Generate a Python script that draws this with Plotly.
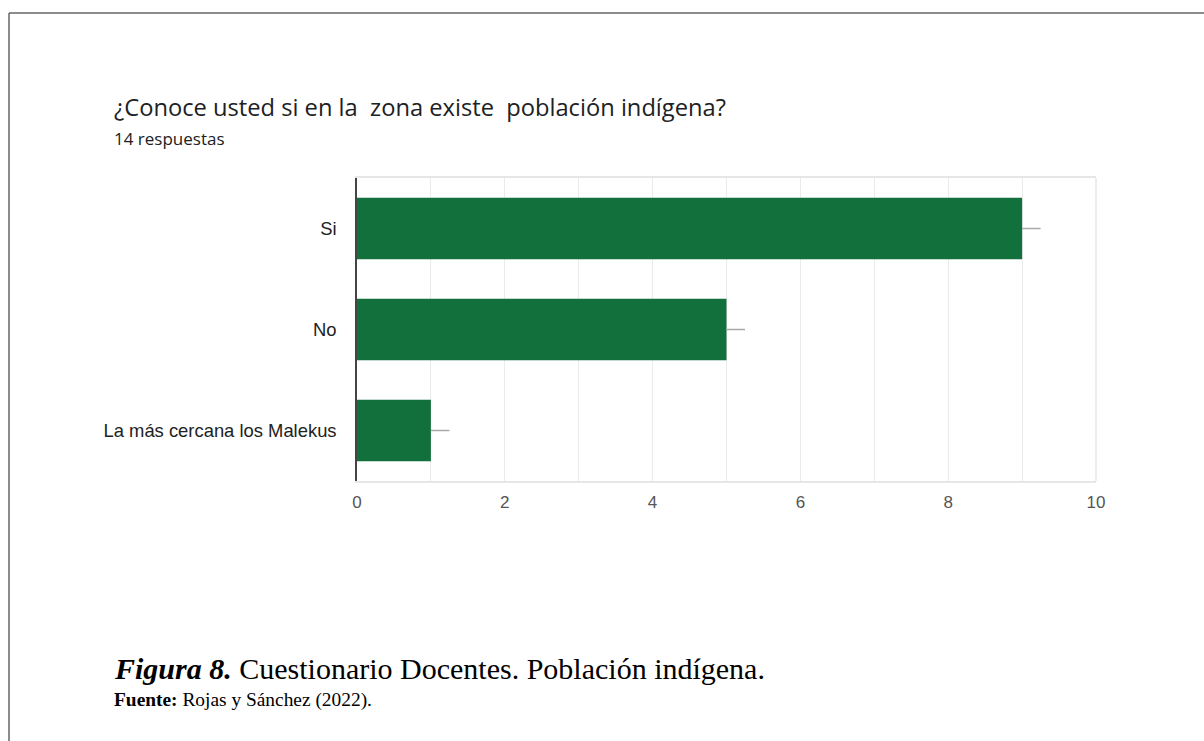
import plotly.graph_objects as go

categories = ["Si", "No", "La más cercana los Malekus"]
values = [9, 5, 1]
err_plus = [0.25, 0.25, 0.25]
x_ticks = [0, 2, 4, 6, 8, 10]

title_text = "¿Conoce usted si en la  zona existe  población indígena?"
subtitle_text = "14 respuestas"

W, H = 1204, 741
L, R, T, B = 357, 108, 178, 260
PW, PH = W - L - R, H - T - B

def px_x(px):
    return (px - L) / PW

def px_y(py):
    return (H - B - py) / PH

fig = go.Figure()
fig.add_trace(go.Bar(
    x=values, y=categories, orientation="h",
    marker=dict(color="#12703C", line=dict(width=0)),
    width=0.61,
    error_x=dict(type="data", symmetric=False, array=err_plus,
                 arrayminus=[0, 0, 0], color="#a8a8a8", thickness=1.5, width=0),
    hoverinfo="x+y",
))

fig.update_layout(
    width=W, height=H,
    margin=dict(l=L, r=R, t=T, b=B, pad=0),
    paper_bgcolor="white", plot_bgcolor="white",
    showlegend=False,
    font=dict(family="Liberation Sans, Arial", color="#333"),
    xaxis=dict(range=[0, 10], tickvals=x_ticks, ticktext=[str(v) for v in x_ticks],
               showgrid=True, gridcolor="#ebebeb", gridwidth=1,
               minor=dict(dtick=1, showgrid=True, gridcolor="#ebebeb", gridwidth=1),
               zeroline=False, showline=True, linecolor="#e6e6e6", linewidth=1.5, mirror=True,
               ticks="", tickfont=dict(size=17, color="#555"), ticklabelstandoff=5,
               fixedrange=True),
    yaxis=dict(categoryorder="array", categoryarray=categories, autorange="reversed",
               showgrid=False, zeroline=False, showline=True, linecolor="#444", linewidth=1.5,
               ticks="", tickfont=dict(size=18.4, color="#222"), ticklabelstandoff=15,
               fixedrange=True),
)

shapes = [
    dict(type="line", xref="paper", yref="paper", x0=1, x1=1, y0=0, y1=1,
         line=dict(color="#e6e6e6", width=1.5), layer="below"),
    dict(type="line", xref="paper", yref="paper", x0=px_x(9), x1=px_x(1204), y0=px_y(13), y1=px_y(13),
         line=dict(color="#666", width=1.5)),
    dict(type="line", xref="paper", yref="paper", x0=px_x(9), x1=px_x(9), y0=px_y(13), y1=px_y(741),
         line=dict(color="#666", width=1.5)),
]
fig.update_layout(shapes=shapes)

annotations = [
    dict(text=title_text, x=px_x(112), y=px_y(107), xref="paper", yref="paper",
         xanchor="left", yanchor="middle", showarrow=False,
         font=dict(family="Open Sans, Roboto", size=23.7, color="#202124")),
    dict(text=subtitle_text, x=px_x(112), y=px_y(138), xref="paper", yref="paper",
         xanchor="left", yanchor="middle", showarrow=False,
         font=dict(family="Open Sans, Roboto", size=17, color="#202124")),
    dict(text="<b><i>Figura 8.</i></b> Cuestionario Docentes. Población indígena.",
         x=px_x(112), y=px_y(668), xref="paper", yref="paper",
         xanchor="left", yanchor="middle", showarrow=False,
         font=dict(family="Liberation Serif, Times New Roman", size=30, color="#000")),
    dict(text="<b>Fuente:</b> Rojas y Sánchez (2022).",
         x=px_x(112), y=px_y(700), xref="paper", yref="paper",
         xanchor="left", yanchor="middle", showarrow=False,
         font=dict(family="Liberation Serif, Times New Roman", size=19.4, color="#000")),
]
fig.update_layout(annotations=annotations)

fig.write_html("out.html", config=dict(displayModeBar=False),
               post_script="document.body.style.margin='0';document.body.style.overflow='hidden';")
